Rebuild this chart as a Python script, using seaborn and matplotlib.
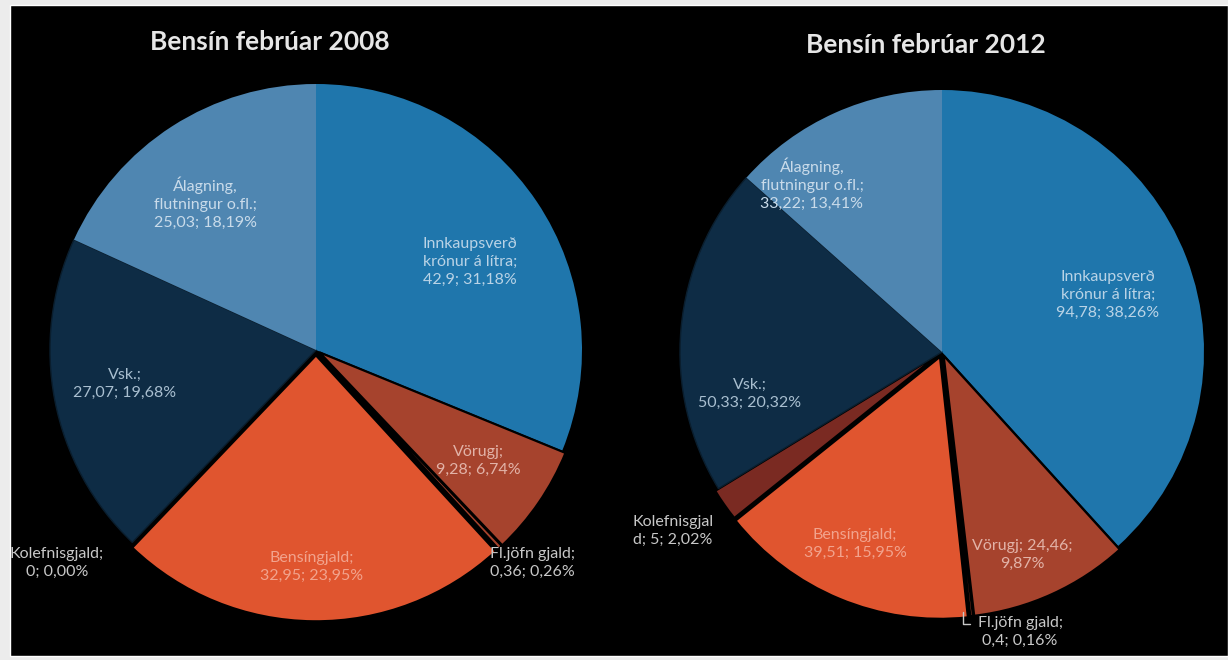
import matplotlib
matplotlib.use("Agg")
import matplotlib.pyplot as plt
import seaborn as sns

sns.set_theme(style="white")
plt.rcParams['font.family'] = ['Lato', 'DejaVu Sans']

W, H = 1228, 660

# gögn
flokkar = ['Innkaupsverð krónur á lítra', 'Vörugj', 'Fl.jöfn gjald', 'Bensíngjald',
           'Kolefnisgjald', 'Vsk.', 'Álagning, flutningur o.fl.']
gildi_2008 = [42.9, 9.28, 0.36, 32.95, 0, 27.07, 25.03]
gildi_2012 = [94.78, 24.46, 0.4, 39.51, 5, 50.33, 33.22]
hlutfall_2008 = [31.18, 6.74, 0.26, 23.95, 0.00, 19.68, 18.19]
hlutfall_2012 = [38.26, 9.87, 0.16, 15.95, 2.02, 20.32, 13.41]
titlar = ['Bensín febrúar 2008', 'Bensín febrúar 2012']

# hvernig merkin eru brotin í línur ({v} = gildi, {p} = hlutfall)
snid_2008 = ['Innkaupsverð\nkrónur á lítra;\n{v}; {p}', 'Vörugj;\n{v}; {p}', 'Fl.jöfn gjald;\n{v}; {p}',
             'Bensíngjald;\n{v}; {p}', 'Kolefnisgjald;\n{v}; {p}', 'Vsk.;\n{v}; {p}',
             'Álagning,\nflutningur o.fl.;\n{v}; {p}']
snid_2012 = ['Innkaupsverð\nkrónur á lítra;\n{v}; {p}', 'Vörugj; {v};\n{p}', 'Fl.jöfn gjald;\n{v}; {p}',
             'Bensíngjald;\n{v}; {p}', 'Kolefnisgjal\nd; {v}; {p}', 'Vsk.;\n{v}; {p}',
             'Álagning,\nflutningur o.fl.;\n{v}; {p}']

# útlit
litir = ['#1F76AC', '#A6432D', '#A6432D', '#E0552F', '#7A2A22', '#0E2C45', '#4F86B1']
textalitir = ['#B9D3E6', '#E2B3A8', '#C8C8C8', '#F2A38D', '#C8C8C8', '#A9BFD0', '#C9DBEA']
explode = [0, 0.015, 0.015, 0.02, 0.015, 0, 0]
midjur = [(316, 350), (942, 352)]
radius = [266, 262]
merki_2008 = [(470, 262), (478, 461), (532, 563), (312, 567), (57, 563), (125, 384), (205, 203)]
merki_2012 = [(1108, 295), (1022, 555), (1020, 632), (855, 544), (673, 531), (750, 394), (812, 184)]
titil_pos = [(270, 42), (926, 45)]


def fmt(x):
    return f"{x:g}".replace('.', ',')


fig = plt.figure(figsize=(W / 100, H / 100), dpi=100)
fig.patch.set_facecolor('#ECECEC')
fig.add_artist(plt.Rectangle((10 / W, 4 / H), 1 - 10 / W, 1 - 9 / H,
                             transform=fig.transFigure, facecolor='black', zorder=-5))

for gildi, hlutfall, snid, merki, (cx, cy), R, titill, tpos in zip(
        [gildi_2008, gildi_2012], [hlutfall_2008, hlutfall_2012], [snid_2008, snid_2012],
        [merki_2008, merki_2012], midjur, radius, titlar, titil_pos):
    ax = fig.add_axes([(cx - R) / W, (H - cy - R) / H, 2 * R / W, 2 * R / H])
    wedges, _ = ax.pie(gildi, colors=litir, startangle=90, counterclock=False,
                       explode=explode, wedgeprops=dict(linewidth=0))
    for i, w in enumerate(wedges):
        w.set_clip_on(False)
        if explode[i] > 0:
            w.set_edgecolor('black')
            w.set_linewidth(1.6)
        elif i == 5:
            w.set_edgecolor('#0A1E2E')
            w.set_linewidth(1)
    ax.set_xlim(-1, 1)
    ax.set_ylim(-1, 1)
    ax.axis('off')

    for i, v in enumerate(gildi):
        p = f"{hlutfall[i]:.2f}%".replace('.', ',')
        s = snid[i].format(v=fmt(v), p=p)
        px, py = merki[i]
        fig.text(px / W, 1 - py / H, s, ha='center', va='center', multialignment='center',
                 fontsize=11.5, color=textalitir[i], linespacing=1.35)

    fig.text(tpos[0] / W, 1 - tpos[1] / H, titill, ha='center', va='center',
             fontsize=19, fontweight='bold', color='#E6E6E6')

# leiðarlína fyrir Fl.jöfn gjald 2012
fig.add_artist(plt.Line2D([963 / W, 963 / W, 970 / W], [1 - 612 / H, 1 - 624 / H, 1 - 624 / H],
                          transform=fig.transFigure, color='#C8C8C8', linewidth=1))

fig.savefig('out.png', dpi=100, facecolor=fig.get_facecolor())
